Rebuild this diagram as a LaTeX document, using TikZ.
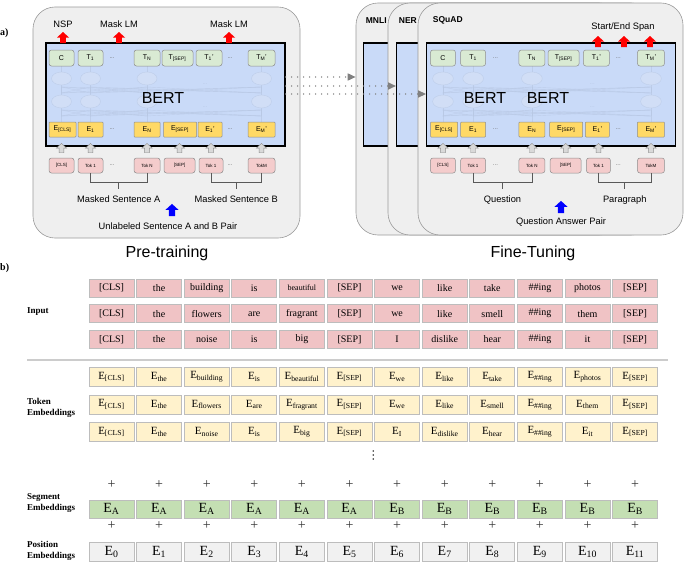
\documentclass[tikz,border=0pt]{standalone}
\usepackage{fontspec}
\setmainfont{Liberation Serif}
\setsansfont{Liberation Sans}
\usetikzlibrary{positioning,calc,arrows.meta}

\definecolor{panelgray}{HTML}{EFEFEF}
\definecolor{panelline}{HTML}{9A9A9A}
\definecolor{bertblue}{HTML}{C9DAF8}
\definecolor{tgreen}{HTML}{D9EAD3}
\definecolor{eyellow}{HTML}{FFD966}
\definecolor{kpink}{HTML}{F4CCCC}
\definecolor{boxline}{HTML}{8E8E8E}
\definecolor{layerline}{HTML}{B8C8E4}
\definecolor{layerfill}{HTML}{D1DEF6}
\definecolor{inpink}{HTML}{F0C3C5}
\definecolor{tokyellow}{HTML}{FFF2CC}
\definecolor{seggreen}{HTML}{C4DFB3}
\definecolor{posgray}{HTML}{F1F1F1}
\definecolor{cellline}{HTML}{BDBDBD}

\tikzset{
  uparr/.pic={\path[pic actions] (-2.8,0) -- (-2.8,-5.5) -- (-6,-5.5) -- (0,-11)
     -- (6,-5.5) -- (2.8,-5.5) -- (2.8,0) -- cycle;},
  redarr/.style={fill=red},
  bluearr/.style={fill=blue, scale=1.1},
  grayarr/.style={fill=black!15, draw=boxline, line width=0.4pt, scale=0.85},
  panel/.style={draw=panelline, fill=panelgray, rounded corners=22pt, line width=0.6pt},
  bertbox/.style={draw=black, fill=bertblue, line width=1.1pt, minimum height=103pt},
  topbox/.style={draw=boxline, line width=0.5pt, rounded corners=2.5pt, inner sep=0pt,
     minimum height=16pt, font=\sffamily\fontsize{7}{8}\selectfont},
  tbox/.style={topbox, fill=tgreen},
  ebox/.style={topbox, fill=eyellow, rounded corners=0.8pt, minimum height=15pt},
  kbox/.style={topbox, fill=kpink, minimum height=15pt, font=\sffamily\fontsize{4.5}{5}\selectfont},
  dotlbl/.style={inner sep=0pt, text=black!60, font=\sffamily\fontsize{6}{7}\selectfont},
  faintline/.style={draw=layerline, line width=0.4pt, draw opacity=0.7},
  faintdots/.style={inner sep=0pt, text=layerline, font=\sffamily\fontsize{6}{7}\selectfont},
  brk/.style={draw=black!65, line width=0.6pt},
  toplbl/.style={inner sep=1pt, font=\sffamily\fontsize{9.3}{11}\selectfont},
  tasklbl/.style={inner sep=0pt, anchor=west, font=\sffamily\bfseries\fontsize{8.5}{10}\selectfont},
  bertlbl/.style={inner sep=0pt, font=\sffamily\fontsize{16}{18}\selectfont},
  titlelbl/.style={inner sep=0pt, font=\sffamily\fontsize{16}{18}\selectfont},
  dotarr/.style={draw=black!50, line width=1.6pt, dash pattern=on 0pt off 6pt, line cap=round,
     -{Triangle[length=8pt,width=7pt]}},
  cell/.style={draw=cellline, line width=0.8pt, inner sep=0pt, minimum width=45pt},
  inbox/.style={cell, fill=inpink, minimum height=18pt, font=\fontsize{10}{12}\selectfont},
  tokbox/.style={cell, fill=tokyellow, minimum height=19pt, font=\fontsize{11}{12}\selectfont},
  segbox/.style={cell, fill=seggreen, minimum height=18pt, font=\fontsize{14}{15}\selectfont},
  posbox/.style={cell, fill=posgray, minimum height=19pt, font=\fontsize{14}{15}\selectfont},
  plus/.style={inner sep=0pt, text=black!80, font=\fontsize{14}{15}\selectfont},
  rowlbl/.style={anchor=west, align=left, inner sep=0pt, font=\bfseries\fontsize{9}{10.5}\selectfont},
  partlbl/.style={anchor=west, inner sep=0pt, font=\bfseries\fontsize{10}{12}\selectfont},
}

% one BERT box with its token rows: #1 name prefix, #2 box width
\newcommand{\bertblock}[2]{%
  \node[bertbox, minimum width=#2pt] (#1bert) at (165.5,94.5) {};
  \foreach \x in {61.5,90.5,147,261.5}{%
    \draw[faintline] (\x,66) -- (\x,122);
    \foreach \z in {61.5,90.5,147,261.5}{%
      \draw[faintline] (\x,87) -- (\z,93);
      \draw[faintline] (\x,110) -- (\z,116);
    }
    \draw[faintline, fill=layerfill] (\x,78.5) ellipse (10 and 6.5);
    \draw[faintline, fill=layerfill] (\x,101.5) ellipse (10 and 6.5);
  }
  \node[faintdots] (#1fa) at (205,84) {...};
  \node[faintdots] (#1fb) at (205,107) {...};
  \foreach \nm/\x/\w/\txt in {c/61.5/25/C, 1/90.5/25/T\textsubscript{1}, n/147/26/T\textsubscript{N},
      sep/177.5/31/T\textsubscript{[SEP]}, b1/209/26/T\textsubscript{1}', m/261.5/27/T\textsubscript{M}'}
    \node[tbox, minimum width=\w] (#1t\nm) at (\x,58) {\txt};
  \foreach \nm/\x/\w/\txt in {c/62.5/27/E\textsubscript{[CLS]}, 1/90.5/25/E\textsubscript{1}, n/147/26/E\textsubscript{N},
      sep/180/33/E\textsubscript{[SEP]}, b1/210/24/E\textsubscript{1}', m/261.5/27/E\textsubscript{M}'}
    \node[ebox, minimum width=\w] (#1e\nm) at (\x,129.5) {\txt};
  \foreach \nm/\x/\w/\txt in {c/61.5/25/[CLS], 1/90.5/25/Tok 1, n/147/26/Tok N,
      sep/179.5/31/[SEP], b1/211/24/Tok 1, m/261.5/27/TokM}
    \node[kbox, minimum width=\w] (#1k\nm) at (\x,165.5) {\txt};
  \foreach \x [count=\i] in {112,230}
    \foreach \y [count=\j] in {58,129.5,165.5}
      \node[dotlbl] (#1dots\i\j) at (\x,\y) {...};
  \foreach \nm in {c,1,n,sep,b1,m}
    \pic[grayarr] at ($(#1k\nm.north)+(0,-5)$) {uparr};
  % brackets under the two sentences
  \draw[brk] (#1k1.south) -- ++(0,9) -| (#1kn.south);
  \draw[brk] (#1kb1.south) -- ++(0,9) -| (#1km.south);
  \draw[brk] ($(#1k1.south)!.5!(#1kn.south)+(0,9)$) -- ++(0,7) coordinate (#1la);
  \draw[brk] ($(#1kb1.south)!.5!(#1km.south)+(0,9)$) -- ++(0,7) coordinate (#1lb);
}

\begin{document}
\begin{tikzpicture}[x=1pt,y=-1pt]
\useasboundingbox (0,0) rectangle (685,570);

\node[partlbl] (parta) at (0,33) {a)};
\node[partlbl] (partb) at (0,268) {b)};

% pre-training
\node[panel, minimum width=267pt, minimum height=231pt] (pre) at (166.5,122.5) {};
\bertblock{p}{239}
\node[bertlbl] (pname) at (163,98) {BERT};
\node[toplbl] (nsp) at (63,24) {NSP};
\node[toplbl] (mlma) at (119,24) {Mask LM};
\node[toplbl] (mlmb) at (229,24) {Mask LM};
\pic[redarr] at (63,43) {uparr};
\pic[redarr] at (119,43) {uparr};
\pic[redarr] at (229,43) {uparr};
\node[toplbl, below=5pt of pla] (msa) {Masked Sentence A};
\node[toplbl, below=5pt of plb] (msb) {Masked Sentence B};
\pic[bluearr] at (172,216) {uparr};
\node[toplbl] (pair) at (168,226) {Unlabeled Sentence A and B Pair};
\node[titlelbl] (ptitle) at (167,253) {Pre-training};

% fine-tuning
\node[panel, minimum width=265pt, minimum height=232pt] (mnli) at (488.5,119) {};
\node[bertbox, minimum width=249pt, anchor=west] (mnlibert) at (363,94.5) {};
\node[tasklbl] (mnlilbl) at ($(mnli.north west)+(10,18)$) {MNLI};
\node[panel, minimum width=265pt, minimum height=232pt] (ner) at (520.5,119) {};
\node[bertbox, minimum width=249pt, anchor=west] (nerbert) at (396,94.5) {};
\node[tasklbl] (nerlbl) at ($(ner.north west)+(11,18)$) {NER};
\node[panel, minimum width=265pt, minimum height=232pt] (squad) at (550.5,119) {};
\begin{scope}[xshift=379pt, xscale=1.04]
\bertblock{s}{249}
\end{scope}
\node[tasklbl] (squadlbl) at ($(squad.north west)+(15,18)$) {SQuAD};
\node[bertlbl] (snamea) at (485,98) {BERT};
\node[bertlbl] (snameb) at (548,98) {BERT};
\node[toplbl] (span) at (623,27) {Start/End Span};
\pic[redarr] at (598,47) {uparr};
\pic[redarr] at (624,47) {uparr};
\pic[redarr] at (650,47) {uparr};
\node[toplbl, below=5pt of sla] (quest) {Question};
\node[toplbl, below=5pt of slb] (para) {Paragraph};
\pic[bluearr] at (561,213) {uparr};
\node[toplbl] (qapair) at (561,222) {Question Answer Pair};
\node[titlelbl] (ftitle) at (533,253) {Fine-Tuning};

% transfer arrows
\coordinate (da) at ($(pbert.east)+(0,-17.5)$);
\coordinate (db) at ($(pbert.east)+(0,-8.5)$);
\coordinate (dc) at ($(pbert.east)+(0,-0.5)$);
\draw[dotarr] (da) -- (da -| mnli.west);
\draw[dotarr] (db) -- (db -| nerbert.west);
\draw[dotarr] (dc) -- (dc -| sbert.west);

% embedding table
\node[rowlbl] (lin) at (27,312) {Input};
\node[rowlbl] (ltok) at (27,408) {Token\\Embeddings};
\node[rowlbl] (lseg) at (27,503) {Segment\\Embeddings};
\node[rowlbl] (lpos) at (27,551) {Position\\Embeddings};

\foreach \row [count=\r] in {
  {{[CLS]},the,building,is,{\fontsize{8}{9}\selectfont beautiful},{[SEP]},we,like,take,\#\#ing,photos,{[SEP]}},
  {{[CLS]},the,flowers,are,fragrant,{[SEP]},we,like,smell,\#\#ing,them,{[SEP]}},
  {{[CLS]},the,noise,is,big,{[SEP]},I,dislike,hear,\#\#ing,it,{[SEP]}}}
  \foreach \w [count=\c from 0] in \row
    \node[inbox] (in\r-\c) at (111.5+47.6*\c, 262.3+25.7*\r) {\w};

\draw[draw=black!20, line width=1.5pt] (27,360) -- (668,360);

\foreach \row [count=\r] in {
  {{[CLS]},the,building,is,beautiful,{[SEP]},we,like,take,\#\#ing,photos,{[SEP]}},
  {{[CLS]},the,flowers,are,fragrant,{[SEP]},we,like,smell,\#\#ing,them,{[SEP]}},
  {{[CLS]},the,noise,is,big,{[SEP]},I,dislike,hear,\#\#ing,it,{[SEP]}}}
  \foreach \w [count=\c from 0] in \row
    \node[tokbox] (tok\r-\c) at (111.5+47.6*\c, 349.5+27.5*\r) {E\textsubscript{\w}};

% vertical ellipsis between the token rows and the sums
\coordinate (vdots) at ($(tok3-5.east)!.5!(tok3-6.west)+(0,23)$);
\foreach \dy in {-4,0,4}
  \fill[black!80] ($(vdots)+(0,\dy)$) circle (0.9pt);

\foreach \s [count=\c from 0] in {A,A,A,A,A,A,B,B,B,B,B,B}{
  \node[plus] (pla\c) at (111.5+47.6*\c, 485) {+};
  \node[segbox] (seg\c) at (111.5+47.6*\c, 509) {E\textsubscript{\s}};
  \node[plus] (plb\c) at (111.5+47.6*\c, 526) {+};
  \node[posbox] (pos\c) at (111.5+47.6*\c, 552) {E\textsubscript{\c}};
}
\end{tikzpicture}
\end{document}
